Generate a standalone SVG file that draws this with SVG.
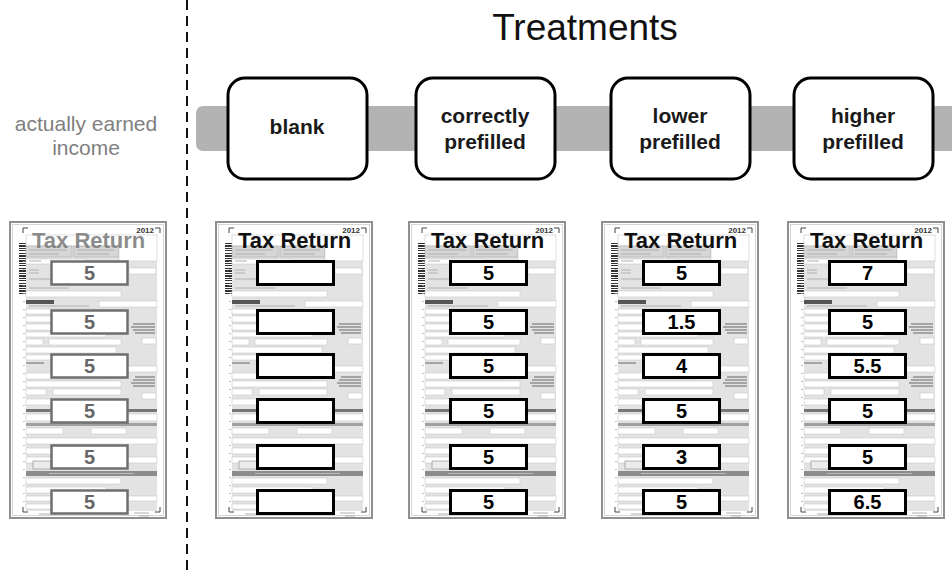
<svg xmlns="http://www.w3.org/2000/svg" width="952" height="575" viewBox="0 0 952 575">
<style>
 .title{font-family:"Liberation Sans",Arial,sans-serif;font-size:37px;fill:#111;text-anchor:middle}
 .side{font-family:"Liberation Sans",Arial,sans-serif;font-size:21px;fill:#808080;text-anchor:middle}
 .tbox{fill:#fff;stroke:#000;stroke-width:3}
 .tlabel{font-family:"Liberation Sans",Arial,sans-serif;font-size:21px;font-weight:bold;fill:#1a1a1a;text-anchor:middle}
 .fld{fill:#fff;stroke:#c8c8c8;stroke-width:0.6}
 .tx{stroke:#b0b0b0;stroke-width:1}
 .dk{stroke:#666;stroke-width:1}
 .head{font-family:"Liberation Sans",Arial,sans-serif;font-size:22px;font-weight:bold;fill:#111}
 .headg{font-family:"Liberation Sans",Arial,sans-serif;font-size:22px;font-weight:bold;fill:#777;fill-opacity:0.85}
 .yr{font-family:"Liberation Sans",Arial,sans-serif;font-size:8px;font-weight:bold;fill:#333;text-anchor:end}
 .ibox{fill:#fff;stroke:#000;stroke-width:3}
 .iboxg{fill:#fff;stroke:#6f6f6f;stroke-width:2.5}
 .num{font-family:"Liberation Sans",Arial,sans-serif;font-size:20px;font-weight:bold;fill:#000;text-anchor:middle}
 .numg{font-family:"Liberation Sans",Arial,sans-serif;font-size:20px;font-weight:bold;fill:#666;text-anchor:middle}
</style>
<defs>
 <g id="tpl">
  <rect x="1" y="1" width="156" height="296" fill="#fff" stroke="#8f8f8f" stroke-width="2"/>
  <rect x="3.5" y="3.5" width="151" height="291" fill="none" stroke="#d6d6d6"/>
  <path d="M14,12V7H19M146,7H151V12M14,286V291H19M146,291H151V286" fill="none" stroke="#444"/>
  <line x1="13.5" y1="22" x2="13.5" y2="74" stroke="#333" stroke-width="7" stroke-dasharray="1 1 2 1 1 1 1 2 1 1 2 1"/>
  <rect x="17" y="14" width="131" height="276" fill="#e3e3e3"/>
  <line x1="15" y1="40" x2="15" y2="288" stroke="#aaa" stroke-width="1.5" stroke-dasharray="1 7"/>
  <rect class="fld" x="17" y="14" width="93" height="11"/>
  <rect x="17" y="25" width="46" height="11" fill="#d6d6d6" stroke="#aaa" stroke-width="0.6"/>
  <rect x="65" y="25" width="45" height="11" fill="#d6d6d6" stroke="#aaa" stroke-width="0.6"/>
  <path class="tx" d="M20,29H58M20,33H50M68,29H105M68,33H100"/>
  <rect class="fld" x="110" y="14" width="38" height="26"/>
  <rect class="fld" x="17" y="38" width="60" height="5"/>
  <rect class="fld" x="52" y="47" width="60" height="7"/>
  <rect class="fld" x="120" y="47" width="27" height="6"/>
  <path class="tx" d="M20,40H32M20,49H30M20,52H30M20,58H42M20,67H60"/>
  <rect class="fld" x="17" y="70" width="95" height="6"/>
  <rect x="17" y="79" width="28" height="4" fill="#555"/>
  <rect class="fld" x="90" y="80" width="58" height="6"/>
  <path class="tx" d="M20,85H80"/>
  <rect class="fld" x="17" y="88" width="70" height="5"/>
  <rect class="fld" x="17" y="95" width="100" height="6"/>
  <rect class="fld" x="17" y="103" width="80" height="6"/>
  <rect class="fld" x="17" y="111" width="80" height="5"/>
  <rect class="fld" x="17" y="118" width="17" height="6"/>
  <rect class="fld" x="40" y="118" width="72" height="6"/>
  <rect class="fld" x="133" y="117" width="14" height="6"/>
  <rect class="fld" x="17" y="126" width="90" height="6"/>
  <rect class="fld" x="17" y="134" width="95" height="5"/>
  <path class="dk" d="M124,103H146M122,106H146M124,109H146M126,112H146"/>
  <path class="dk" d="M17,142H35"/>
  <rect class="fld" x="95" y="145" width="53" height="6"/>
  <rect class="fld" x="17" y="152" width="80" height="6"/>
  <rect class="fld" x="17" y="160" width="95" height="6"/>
  <path class="dk" d="M126,156H146M124,159H146M122,162H146M124,165H146"/>
  <rect class="fld" x="17" y="168" width="20" height="6"/>
  <rect class="fld" x="44" y="168" width="68" height="6"/>
  <rect class="fld" x="133" y="172" width="14" height="6"/>
  <rect class="fld" x="17" y="178" width="95" height="6"/>
  <rect x="17" y="188" width="131" height="3" fill="#777"/>
  <rect class="fld" x="17" y="193" width="40" height="7"/>
  <rect class="fld" x="110" y="193" width="38" height="7"/>
  <rect x="17" y="202" width="131" height="3" fill="#a0a0a0"/>
  <rect class="fld" x="17" y="207" width="37" height="6"/>
  <rect class="fld" x="82" y="207" width="35" height="6"/>
  <rect class="fld" x="17" y="217" width="131" height="6"/>
  <rect class="fld" x="17" y="227" width="95" height="6"/>
  <rect class="fld" x="17" y="236" width="131" height="6"/>
  <rect x="24" y="240" width="18" height="8" fill="#ececec" stroke="#888" stroke-width="0.6"/>
  <rect x="17" y="250" width="131" height="5" fill="#8c8c8c"/>
  <path d="M40,252.5H125" stroke="#bbb" stroke-width="1"/>
  <rect class="fld" x="17" y="257" width="95" height="6"/>
  <rect class="fld" x="17" y="266" width="80" height="6"/>
  <rect class="fld" x="17" y="275" width="131" height="5"/>
  <rect class="fld" x="17" y="283" width="30" height="5"/>
  <path class="tx" d="M30,293H48M125,292H140M130,295H140"/>
  <text class="yr" x="145" y="12">2012</text>
 </g>
</defs>

<g id="divider">
 <line x1="187" y1="0" x2="187" y2="575" stroke="#111" stroke-width="2" stroke-dasharray="10 6"/>
</g>

<g id="title">
 <text class="title" x="585" y="40">Treatments</text>
</g>

<g id="label-income">
 <text class="side" x="86" y="131">actually earned</text>
 <text class="side" x="86" y="155">income</text>
</g>

<g id="connectors">
 <path d="M203,106H952V151H203A7,7 0 0 1 196,144V113A7,7 0 0 1 203,106Z" fill="#b3b3b3"/>
</g>

<g id="t-blank">
 <rect class="tbox" x="228" y="78" width="139" height="101" rx="17"/>
 <text class="tlabel" x="297" y="134">blank</text>
</g>
<g id="t-correct">
 <rect class="tbox" x="416" y="78" width="139" height="101" rx="17"/>
 <text class="tlabel" x="485" y="123">correctly</text>
 <text class="tlabel" x="485" y="149">prefilled</text>
</g>
<g id="t-lower">
 <rect class="tbox" x="611" y="78" width="139" height="101" rx="17"/>
 <text class="tlabel" x="680" y="123">lower</text>
 <text class="tlabel" x="680" y="149">prefilled</text>
</g>
<g id="t-higher">
 <rect class="tbox" x="794" y="78" width="139" height="101" rx="17"/>
 <text class="tlabel" x="863" y="123">higher</text>
 <text class="tlabel" x="863" y="149">prefilled</text>
</g>

<g id="form-actual" transform="translate(9,221)">
 <use href="#tpl"/>
 <text class="headg" x="23" y="27">Tax Return</text>
 <rect class="iboxg" x="42.5" y="40.5" width="76" height="23"/>
 <rect class="iboxg" x="42.5" y="89.5" width="76" height="23"/>
 <rect class="iboxg" x="42.5" y="133.5" width="76" height="23"/>
 <rect class="iboxg" x="42.5" y="178.5" width="76" height="23"/>
 <rect class="iboxg" x="42.5" y="224.5" width="76" height="23"/>
 <rect class="iboxg" x="42.5" y="269.5" width="76" height="23"/>
 <text class="numg" x="80.5" y="59">5</text>
 <text class="numg" x="80.5" y="108">5</text>
 <text class="numg" x="80.5" y="152">5</text>
 <text class="numg" x="80.5" y="197">5</text>
 <text class="numg" x="80.5" y="243">5</text>
 <text class="numg" x="80.5" y="288">5</text>
</g>

<g id="form-blank" transform="translate(215,221)">
 <use href="#tpl"/>
 <text class="head" x="23" y="27">Tax Return</text>
 <rect class="ibox" x="42.5" y="40.5" width="76" height="23"/>
 <rect class="ibox" x="42.5" y="89.5" width="76" height="23"/>
 <rect class="ibox" x="42.5" y="133.5" width="76" height="23"/>
 <rect class="ibox" x="42.5" y="178.5" width="76" height="23"/>
 <rect class="ibox" x="42.5" y="224.5" width="76" height="23"/>
 <rect class="ibox" x="42.5" y="269.5" width="76" height="23"/>
</g>

<g id="form-correct" transform="translate(408,221)">
 <use href="#tpl"/>
 <text class="head" x="23" y="27">Tax Return</text>
 <rect class="ibox" x="42.5" y="40.5" width="76" height="23"/>
 <rect class="ibox" x="42.5" y="89.5" width="76" height="23"/>
 <rect class="ibox" x="42.5" y="133.5" width="76" height="23"/>
 <rect class="ibox" x="42.5" y="178.5" width="76" height="23"/>
 <rect class="ibox" x="42.5" y="224.5" width="76" height="23"/>
 <rect class="ibox" x="42.5" y="269.5" width="76" height="23"/>
 <text class="num" x="80.5" y="59">5</text>
 <text class="num" x="80.5" y="108">5</text>
 <text class="num" x="80.5" y="152">5</text>
 <text class="num" x="80.5" y="197">5</text>
 <text class="num" x="80.5" y="243">5</text>
 <text class="num" x="80.5" y="288">5</text>
</g>

<g id="form-lower" transform="translate(601,221)">
 <use href="#tpl"/>
 <text class="head" x="23" y="27">Tax Return</text>
 <rect class="ibox" x="42.5" y="40.5" width="76" height="23"/>
 <rect class="ibox" x="42.5" y="89.5" width="76" height="23"/>
 <rect class="ibox" x="42.5" y="133.5" width="76" height="23"/>
 <rect class="ibox" x="42.5" y="178.5" width="76" height="23"/>
 <rect class="ibox" x="42.5" y="224.5" width="76" height="23"/>
 <rect class="ibox" x="42.5" y="269.5" width="76" height="23"/>
 <text class="num" x="80.5" y="59">5</text>
 <text class="num" x="80.5" y="108">1.5</text>
 <text class="num" x="80.5" y="152">4</text>
 <text class="num" x="80.5" y="197">5</text>
 <text class="num" x="80.5" y="243">3</text>
 <text class="num" x="80.5" y="288">5</text>
</g>

<g id="form-higher" transform="translate(787,221)">
 <use href="#tpl"/>
 <text class="head" x="23" y="27">Tax Return</text>
 <rect class="ibox" x="42.5" y="40.5" width="76" height="23"/>
 <rect class="ibox" x="42.5" y="89.5" width="76" height="23"/>
 <rect class="ibox" x="42.5" y="133.5" width="76" height="23"/>
 <rect class="ibox" x="42.5" y="178.5" width="76" height="23"/>
 <rect class="ibox" x="42.5" y="224.5" width="76" height="23"/>
 <rect class="ibox" x="42.5" y="269.5" width="76" height="23"/>
 <text class="num" x="80.5" y="59">7</text>
 <text class="num" x="80.5" y="108">5</text>
 <text class="num" x="80.5" y="152">5.5</text>
 <text class="num" x="80.5" y="197">5</text>
 <text class="num" x="80.5" y="243">5</text>
 <text class="num" x="80.5" y="288">6.5</text>
</g>
</svg>
